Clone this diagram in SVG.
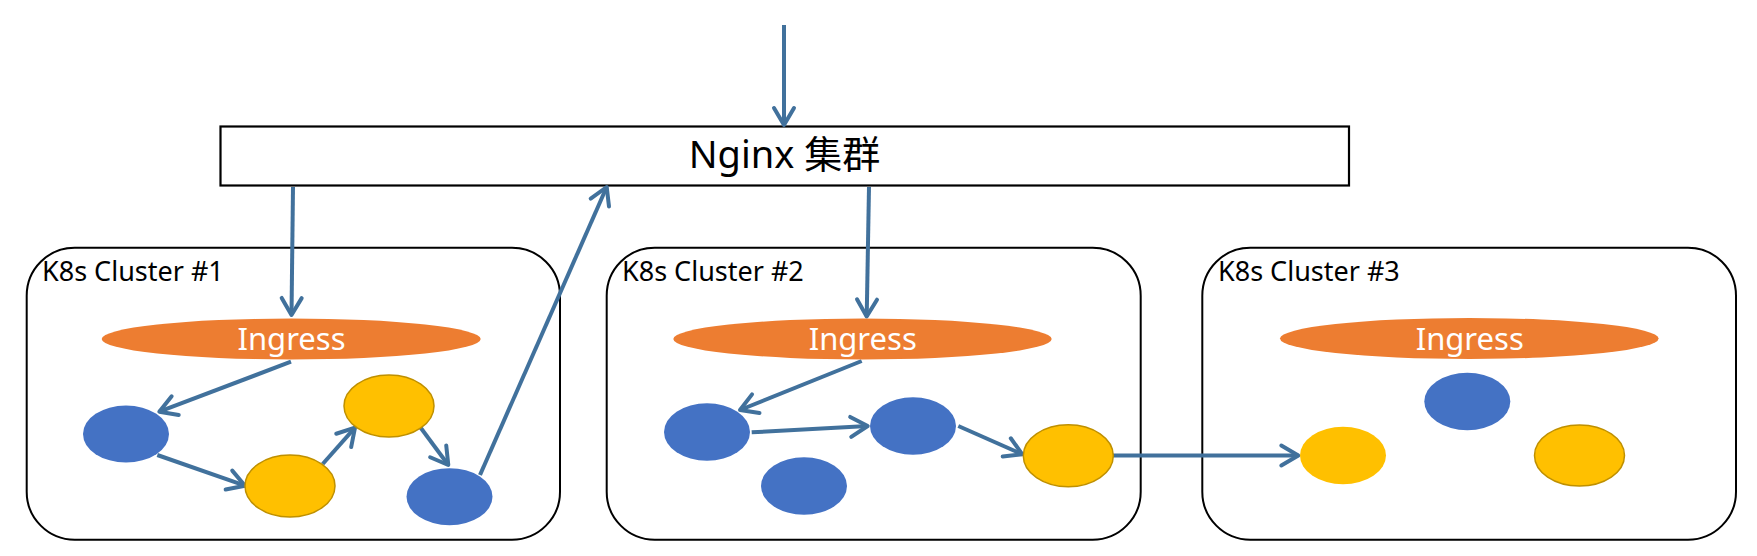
<svg xmlns="http://www.w3.org/2000/svg" width="1757" height="556" viewBox="0 0 1757 556">
<style>
.cluster{fill:#FFFFFF;stroke:#000000;stroke-width:2}
.clabel{font-family:"Noto Sans","Liberation Sans",sans-serif;font-size:27px;fill:#000000}
.ingress{fill:#ED7D31}
.itext{font-family:"Noto Sans","Liberation Sans",sans-serif;font-size:31px;fill:#FFFFFF;text-anchor:middle}
.blue{fill:#4472C4}
.yellow{fill:#FFC000}
.yb{fill:#FFC000;stroke:#BF9000;stroke-width:1.5}
.conn{stroke:#41719C;stroke-width:4;fill:none;marker-end:url(#arr)}
</style>
<defs>
<marker id="arr" markerUnits="userSpaceOnUse" markerWidth="26" markerHeight="26" refX="19" refY="13" orient="auto" overflow="visible">
<path d="M2,3 L19,13 L2,23" fill="none" stroke="#41719C" stroke-width="4" stroke-linecap="round" stroke-linejoin="round"/>
</marker>
</defs>
<rect width="1757" height="556" fill="#FFFFFF"/>

<g id="nginx">
<rect x="220.5" y="126.5" width="1128.5" height="59" fill="#FFFFFF" stroke="#000000" stroke-width="2.2"/>
<text x="784.5" y="167.5" font-family="'Noto Sans','Noto Sans CJK SC',sans-serif" font-size="38" text-anchor="middle" fill="#000000">Nginx 集群</text>
</g>

<g id="cluster1">
<rect class="cluster" x="26.7" y="247.7" width="533.3" height="292" rx="48" ry="48"/>
<text class="clabel" x="42" y="280.5">K8s Cluster #1</text>
</g>
<g id="cluster2">
<rect class="cluster" x="606.7" y="247.7" width="534" height="292" rx="48" ry="48"/>
<text class="clabel" x="622" y="280.5">K8s Cluster #2</text>
</g>
<g id="cluster3">
<rect class="cluster" x="1202.3" y="247.7" width="533.7" height="292" rx="48" ry="48"/>
<text class="clabel" x="1218" y="280.5">K8s Cluster #3</text>
</g>

<g id="connectors">
<line class="conn" x1="784" y1="25" x2="784" y2="125"/>
<line class="conn" x1="293" y1="187" x2="291.5" y2="315"/>
<line class="conn" x1="869" y1="187" x2="866.7" y2="316.5"/>
<line class="conn" x1="291" y1="361.7" x2="159.3" y2="411.7"/>
<line class="conn" x1="157.3" y1="455" x2="245" y2="485.7"/>
<line class="conn" x1="322.7" y1="464" x2="355" y2="427.7"/>
<line class="conn" x1="420.7" y1="427.7" x2="448.3" y2="465"/>
<line class="conn" x1="480" y1="475" x2="606.7" y2="187"/>
<line class="conn" x1="861.7" y1="361" x2="740" y2="410"/>
<line class="conn" x1="751.7" y1="432.3" x2="867.7" y2="426"/>
<line class="conn" x1="958.3" y1="426" x2="1022.3" y2="454.3"/>
<line class="conn" x1="1113" y1="455.5" x2="1298.3" y2="455.5"/>
</g>

<g id="ingress1">
<ellipse class="ingress" cx="291.2" cy="339" rx="189.5" ry="20.5"/>
<text class="itext" x="291.5" y="350">Ingress</text>
</g>
<g id="ingress2">
<ellipse class="ingress" cx="862.5" cy="339" rx="189.2" ry="20.5"/>
<text class="itext" x="862.7" y="350">Ingress</text>
</g>
<g id="ingress3">
<ellipse class="ingress" cx="1469.3" cy="338.5" rx="189.3" ry="20.5"/>
<text class="itext" x="1469.7" y="350">Ingress</text>
</g>

<g id="c1-pod1"><ellipse class="blue" cx="126" cy="434" rx="43" ry="28.5"/></g>
<g id="c1-pod2"><ellipse class="yb" cx="290" cy="486" rx="45" ry="31"/></g>
<g id="c1-pod3"><ellipse class="yb" cx="389" cy="406" rx="45" ry="31"/></g>
<g id="c1-pod4"><ellipse class="blue" cx="449.5" cy="496.7" rx="43" ry="28.5"/></g>

<g id="c2-pod1"><ellipse class="blue" cx="707" cy="432" rx="43" ry="28.7"/></g>
<g id="c2-pod2"><ellipse class="blue" cx="913" cy="426" rx="43" ry="28.7"/></g>
<g id="c2-pod3"><ellipse class="blue" cx="804" cy="486" rx="43" ry="28.7"/></g>
<g id="c2-pod4"><ellipse class="yb" cx="1068.3" cy="455.7" rx="45" ry="31"/></g>

<g id="c3-pod1"><ellipse class="yellow" cx="1343" cy="455.5" rx="43" ry="28.8"/></g>
<g id="c3-pod2"><ellipse class="blue" cx="1467.3" cy="401.5" rx="43" ry="28.8"/></g>
<g id="c3-pod3"><ellipse class="yb" cx="1579.5" cy="455.5" rx="45" ry="30.5"/></g>
</svg>
